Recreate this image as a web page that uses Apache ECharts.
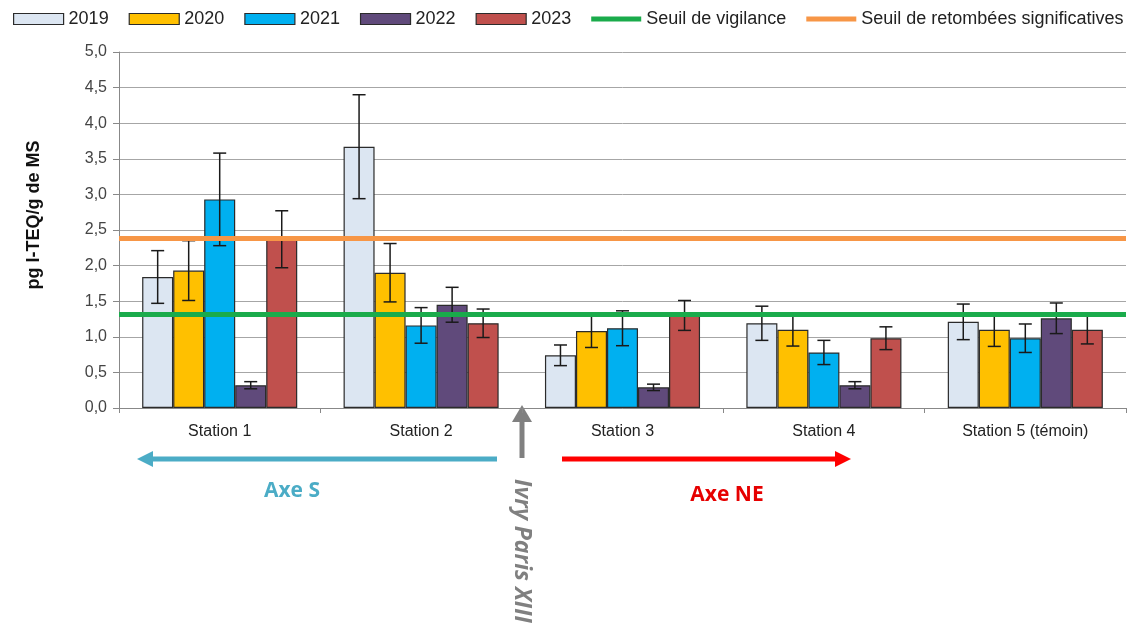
<!DOCTYPE html>
<html>
<head>
<meta charset="utf-8">
<script src="https://cdn.jsdelivr.net/npm/echarts@6/dist/echarts.min.js"></script>
<style>
  html, body { margin: 0; padding: 0; background: #fff; }
  #chart { width: 1139px; height: 627px; }
</style>
</head>
<body>
<div id="chart"></div>
<script>
const stations = ['Station 1', 'Station 2', 'Station 3', 'Station 4', 'Station 5 (témoin)'];
const years = ['2019', '2020', '2021', '2022', '2023'];

const v2019 = [1.84, 3.67, 0.74, 1.19, 1.21];
const v2020 = [1.93, 1.90, 1.08, 1.10, 1.10];
const v2021 = [2.93, 1.16, 1.12, 0.78, 0.98];
const v2022 = [0.32, 1.45, 0.29, 0.32, 1.26];
const v2023 = [2.37, 1.19, 1.30, 0.98, 1.10];

const e2019 = [0.37, 0.73, 0.145, 0.24, 0.25];
const e2020 = [0.42, 0.41, 0.23, 0.23, 0.235];
const e2021 = [0.65, 0.25, 0.245, 0.17, 0.20];
const e2022 = [0.05, 0.245, 0.045, 0.05, 0.215];
const e2023 = [0.40, 0.20, 0.21, 0.16, 0.20];

const seuilVigilance = 1.32;
const seuilRetombees = 2.39;

const values = [v2019, v2020, v2021, v2022, v2023];
const errors = [e2019, e2020, e2021, e2022, e2023];
const colors = ['#dce6f2', '#ffc000', '#00b0f0', '#604a7b', '#c0504d'];

const FONT = '"Liberation Sans", Arial, sans-serif';
const NARROW = '"Liberation Sans Narrow", "Open Sans", sans-serif';
const CAT_GAP = 0.23;
const LINE_ICON = 'path://M0,0 L50,0 L50,5 L0,5 Z';

const chart = echarts.init(document.getElementById('chart'));

const barSeries = years.map((y, i) => ({
  name: y,
  type: 'bar',
  data: values[i],
  barGap: '0%',
  barCategoryGap: (CAT_GAP * 100) + '%',
  itemStyle: { color: colors[i], borderColor: '#2b2b2b', borderWidth: 1.2 },
  z: 2
}));

const errorSeries = years.map((y, i) => ({
  name: 'err' + y,
  type: 'custom',
  z: 3,
  data: values[i].map((v, k) => [k, v - errors[i][k], v + errors[i][k]]),
  encode: { x: 0, y: [1, 2] },
  renderItem: function (params, api) {
    const cat = api.value(0);
    const low = api.coord([cat, api.value(1)]);
    const high = api.coord([cat, api.value(2)]);
    const catW = api.size([1, 0])[0];
    const barW = catW * (1 - CAT_GAP) / years.length;
    const x = low[0] + (i - (years.length - 1) / 2) * barW;
    const cap = 6.5;
    const style = { stroke: '#1a1a1a', lineWidth: 1.5 };
    return {
      type: 'group',
      children: [
        { type: 'line', shape: { x1: x, y1: low[1], x2: x, y2: high[1] }, style },
        { type: 'line', shape: { x1: x - cap, y1: low[1], x2: x + cap, y2: low[1] }, style },
        { type: 'line', shape: { x1: x - cap, y1: high[1], x2: x + cap, y2: high[1] }, style }
      ]
    };
  }
}));

function seuil(name, value, color) {
  return {
    name: name,
    type: 'line',
    data: [],
    symbol: 'none',
    color: color,
    lineStyle: { color: color, width: 5 },
    z: 5,
    markLine: {
      silent: true,
      symbol: ['none', 'none'],
      label: { show: false },
      lineStyle: { color: color, width: 5, type: 'solid' },
      z: 5,
      data: [{ yAxis: value }]
    }
  };
}

const arrowY = 459;

chart.setOption({
  animation: false,
  textStyle: { fontFamily: FONT },
  legend: {
    data: years.map(y => ({ name: y, icon: 'rect' })).concat([
      { name: 'Seuil de vigilance', icon: LINE_ICON, itemStyle: { color: '#1aab4b', borderWidth: 0 } },
      { name: 'Seuil de retombées significatives', icon: LINE_ICON, itemStyle: { color: '#f79646', borderWidth: 0 } }
    ]),
    left: 8,
    top: 5,
    itemWidth: 50,
    itemHeight: 11,
    itemGap: 20,
    itemStyle: { borderColor: '#2b2b2b', borderWidth: 1.2 },
    textStyle: { fontSize: 18, color: '#222', fontFamily: FONT }
  },
  grid: { left: 119, right: 13, top: 52, bottom: 219 },
  xAxis: {
    type: 'category',
    data: stations,
    axisLine: { lineStyle: { color: '#888' } },
    axisTick: { show: true, length: 5, lineStyle: { color: '#888' } },
    axisLabel: { fontSize: 16, color: '#222', margin: 16, fontFamily: FONT }
  },
  yAxis: {
    type: 'value',
    min: 0,
    max: 5,
    interval: 0.5,
    name: 'pg I-TEQ/g de MS',
    nameLocation: 'middle',
    nameGap: 76,
    nameTextStyle: { fontSize: 18, fontWeight: 'bold', color: '#111', fontFamily: FONT, padding: [0, 0, 0, 30] },
    axisLine: { show: true, lineStyle: { color: '#888' } },
    axisTick: { show: true, length: 6, lineStyle: { color: '#888' } },
    axisLabel: {
      fontSize: 16, color: '#444', margin: 12, fontFamily: FONT,
      formatter: v => v.toFixed(1).replace('.', ',')
    },
    splitLine: { lineStyle: { color: '#a6a6a6', width: 1 } }
  },
  series: barSeries.concat(errorSeries, [
    seuil('Seuil de vigilance', seuilVigilance, '#1aab4b'),
    seuil('Seuil de retombées significatives', seuilRetombees, '#f79646')
  ]),
  graphic: [
    // Axe S arrow
    { type: 'line', shape: { x1: 497, y1: arrowY, x2: 150, y2: arrowY }, style: { stroke: '#4bacc6', lineWidth: 5 } },
    { type: 'polygon', shape: { points: [[137, arrowY], [153, arrowY - 8], [153, arrowY + 8]] }, style: { fill: '#4bacc6' } },
    { type: 'text', x: 292, y: 491, style: { text: 'Axe S', fill: '#4bacc6', font: 'bold 21px ' + NARROW, align: 'center', verticalAlign: 'middle' } },
    // Axe NE arrow
    { type: 'line', shape: { x1: 562, y1: arrowY, x2: 836, y2: arrowY }, style: { stroke: '#ff0000', lineWidth: 5 } },
    { type: 'polygon', shape: { points: [[851, arrowY], [835, arrowY - 8], [835, arrowY + 8]] }, style: { fill: '#ff0000' } },
    { type: 'text', x: 727, y: 495, style: { text: 'Axe NE', fill: '#e60000', font: 'bold 21px ' + NARROW, align: 'center', verticalAlign: 'middle' } },
    // Ivry Paris XIII
    { type: 'line', shape: { x1: 522, y1: 458, x2: 522, y2: 420 }, style: { stroke: '#808080', lineWidth: 5 } },
    { type: 'polygon', shape: { points: [[522, 405], [512, 422], [532, 422]] }, style: { fill: '#808080' } },
    { type: 'text', x: 522, y: 551, rotation: -Math.PI / 2, style: { text: 'Ivry Paris XIII', fill: '#808080', font: 'italic bold 23px ' + NARROW, align: 'center', verticalAlign: 'middle' } }
  ]
});
</script>
</body>
</html>
